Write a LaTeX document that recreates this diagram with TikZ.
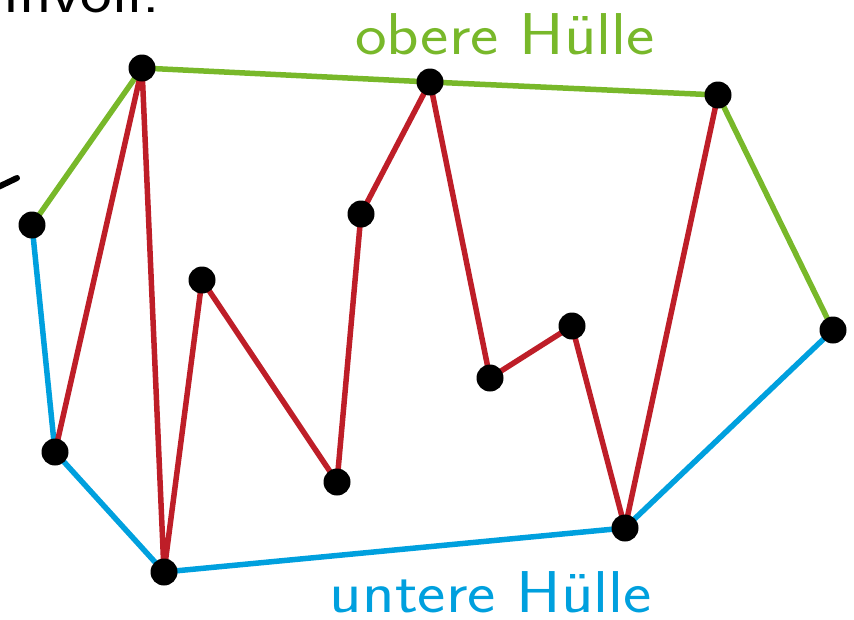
\documentclass[tikz,border=0pt]{standalone}
\usepackage{fontspec}
\definecolor{hullgreen}{RGB}{120,184,42}
\definecolor{hullblue}{RGB}{0,160,222}
\definecolor{pathred}{RGB}{190,30,40}
\newcommand{\widetext}[1]{\scalebox{1.14}[1]{#1}}
\begin{document}
\begin{tikzpicture}[x=1pt,y=-1pt,
  vtx/.style={circle,fill=black,inner sep=0pt,minimum size=27pt},
  upper/.style={draw=hullgreen,line width=5.5pt,line join=round},
  lower/.style={draw=hullblue,line width=5.5pt,line join=round},
  redpath/.style={draw=pathred,line width=5.5pt,line join=round},
  lbl/.style={font=\sffamily\fontsize{59}{66}\selectfont,inner sep=0pt}]
\useasboundingbox (0,0) rectangle (854,619);
\clip (0,0) rectangle (854,619);
\coordinate (A) at (32,225);
\coordinate (B) at (142,68);
\coordinate (C) at (430,82);
\coordinate (D) at (718,95);
\coordinate (E) at (833,330);
\coordinate (F) at (55,452);
\coordinate (G) at (164,572);
\coordinate (H) at (202,280);
\coordinate (I) at (337,482);
\coordinate (J) at (361,214);
\coordinate (K) at (490,378);
\coordinate (L) at (572,326);
\coordinate (M) at (625,528);
\node[lbl,anchor=base east] (top) at (160,12) {\widetext{sinnvoll:}};
\coordinate (s1) at (-6,189);
\coordinate (s2) at (17,178);
\draw[line width=6pt,line cap=round] (s1) -- (s2);
\draw[upper] (A) -- (B) -- (C) -- (D) -- (E);
\draw[lower] (A) -- (F) -- (G) -- (M) -- (E);
\draw[redpath] (F) -- (B) -- (G) -- (H) -- (I) -- (J) -- (C) -- (K) -- (L) -- (M) -- (D);
\foreach \p in {A,B,C,D,E,F,G,H,I,J,K,L,M} \node[vtx] (n\p) at (\p) {};
\node[lbl,text=hullgreen,anchor=base] (ob) at (505,54) {\widetext{obere Hülle}};
\node[lbl,text=hullblue,anchor=base] (un) at (491,612) {\widetext{untere Hülle}};
\end{tikzpicture}
\end{document}
